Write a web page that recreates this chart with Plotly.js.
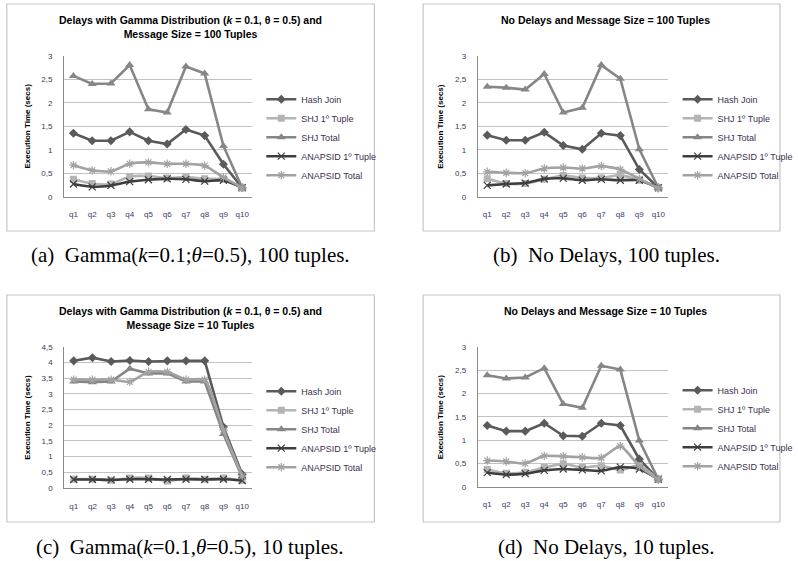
<!DOCTYPE html>
<html><head><meta charset="utf-8">
<script src="https://cdn.plot.ly/plotly-3.0.1.min.js"></script>
<style>body{margin:0;background:#fff}#chart{width:798px;height:561px}</style>
</head><body><div id="chart"></div>
<script>
const categories = ['q1','q2','q3','q4','q5','q6','q7','q8','q9','q10'];
const seriesNames = ['Hash Join','SHJ 1º Tuple','SHJ Total','ANAPSID 1º Tuple','ANAPSID Total'];
const yTicks3 = [0,0.5,1,1.5,2,2.5,3];
const yTickText3 = ['0','0,5','1','1,5','2','2,5','3'];
const yTicks45 = [0,0.5,1,1.5,2,2.5,3,3.5,4,4.5];
const yTickText45 = ['0','0,5','1','1,5','2','2,5','3','3,5','4','4,5'];

// (a) Gamma, 100 tuples
const hashA   = [1.35,1.19,1.19,1.38,1.19,1.12,1.43,1.30,0.69,0.19];
const shj1A   = [0.37,0.28,0.27,0.43,0.44,0.40,0.42,0.38,0.37,0.19];
const shjTotA = [2.57,2.40,2.41,2.80,1.86,1.79,2.77,2.62,1.08,0.19];
const ana1A   = [0.27,0.21,0.24,0.32,0.36,0.38,0.37,0.33,0.35,0.19];
const anaTotA = [0.67,0.56,0.54,0.70,0.73,0.70,0.70,0.66,0.41,0.19];
// (b) No delays, 100 tuples
const hashB   = [1.31,1.20,1.20,1.37,1.09,1.01,1.35,1.30,0.58,0.19];
const shj1B   = [0.38,0.28,0.28,0.37,0.45,0.40,0.40,0.46,0.35,0.19];
const shjTotB = [2.34,2.32,2.28,2.61,1.79,1.89,2.80,2.51,1.01,0.19];
const ana1B   = [0.24,0.27,0.29,0.38,0.39,0.35,0.37,0.35,0.35,0.19];
const anaTotB = [0.53,0.51,0.50,0.60,0.62,0.60,0.65,0.58,0.38,0.18];
// (c) Gamma, 10 tuples
const hashC   = [4.05,4.15,4.03,4.06,4.03,4.05,4.05,4.05,1.94,0.44];
const shj1C   = [0.28,0.28,0.25,0.32,0.32,0.22,0.32,0.28,0.32,0.24];
const shjTotC = [3.39,3.37,3.39,3.80,3.65,3.65,3.39,3.39,1.72,0.34];
const ana1C   = [0.27,0.27,0.26,0.28,0.28,0.27,0.28,0.27,0.28,0.24];
const anaTotC = [3.45,3.45,3.45,3.38,3.70,3.70,3.45,3.45,1.85,0.38];
// (d) No delays, 10 tuples
const hashD   = [1.31,1.19,1.19,1.36,1.09,1.08,1.36,1.31,0.59,0.16];
const shj1D   = [0.37,0.29,0.31,0.41,0.49,0.41,0.45,0.36,0.45,0.16];
const shjTotD = [2.39,2.32,2.34,2.54,1.77,1.69,2.59,2.51,0.99,0.16];
const ana1D   = [0.30,0.26,0.28,0.35,0.38,0.36,0.34,0.42,0.38,0.16];
const anaTotD = [0.56,0.54,0.50,0.66,0.65,0.63,0.62,0.87,0.44,0.16];

const panelTitles = [
  '<b>Delays with Gamma Distribution (<i>k</i> = 0.1, θ = 0.5) and</b><br><b>Message Size = 100 Tuples</b>',
  '<b>No Delays and Message Size = 100 Tuples</b>',
  '<b>Delays with Gamma Distribution (<i>k</i> = 0.1, θ = 0.5) and</b><br><b>Message Size = 10 Tuples</b>',
  '<b>No Delays and Message Size = 10 Tuples</b>'
];
const captions = [
  '(a)  Gamma(<i>k</i>=0.1;<i>θ</i>=0.5), 100 tuples.',
  '(b)  No Delays, 100 tuples.',
  '(c)  Gamma(<i>k</i>=0.1,<i>θ</i>=0.5), 10 tuples.',
  '(d)  No Delays, 10 tuples.'
];
const yTitle = '<b>Execution Time (secs)</b>';

const panels = [
  [hashA,shj1A,shjTotA,ana1A,anaTotA],
  [hashB,shj1B,shjTotB,ana1B,anaTotB],
  [hashC,shj1C,shjTotC,ana1C,anaTotC],
  [hashD,shj1D,shjTotD,ana1D,anaTotD]
];

const W = 798, H = 561;
const px = v => v / W, py = v => 1 - v / H;
// plot areas in px: [x0, x1, yTop, yBottom]
const areas = [[65.7,258,55.7,196.7],[490,685,55.7,196.7],[66,258,346.7,488],[490,685,346.7,486.7]];
const boxes = [[7,384,4,231],[434,800,4,231],[7,384,295,522],[434,800,295,522]];
const styles = [
  {color:'#5a5a5a', symbol:'diamond', size:7, shape:'linear'},
  {color:'#b4b4b4', symbol:'square', size:7, shape:'spline'},
  {color:'#868686', symbol:'triangle-up', size:8, shape:'linear'},
  {color:'#3e3e3e', symbol:'x-thin-open', size:7, shape:'spline'},
  {color:'#a2a2a2', symbol:'asterisk-open', size:7, shape:'spline'}
];
const tickColor = '#3a3a5c';
const font = 'Liberation Sans, Arial, sans-serif';

const data = [];
const layout = {
  width: W, height: H, margin:{l:0,r:0,t:0,b:0},
  paper_bgcolor:'#fff', plot_bgcolor:'rgba(0,0,0,0)',
  font:{family:font, size:8, color:tickColor},
  shapes:[], annotations:[]
};

panels.forEach((series, p) => {
  const n = p + 1;
  const xa = 'xaxis' + (n===1?'':n), ya = 'yaxis' + (n===1?'':n);
  const xr = 'x' + (n===1?'':n), yr = 'y' + (n===1?'':n);
  const lg = n===1 ? 'legend' : 'legend' + n;
  const [x0,x1,yt,yb] = areas[p];
  const big = p === 2;
  series.forEach((vals, s) => {
    const st = styles[s];
    data.push({
      type:'scatter', mode:'lines+markers', x:categories, y:vals,
      name:seriesNames[s], xaxis:xr, yaxis:yr, legend:lg, legendgroup:'g'+s,
      line:{color:st.color, width:2.6, shape:st.shape, smoothing:0.6},
      marker:{symbol:st.symbol, size:st.size, color:st.color,
              line:{color:st.color, width: st.symbol.includes('open') ? 1.2 : 0}}
    });
  });
  layout[xa] = {domain:[px(x0),px(x1)], anchor:yr, type:'category', range:[-0.5,9.5],
    showgrid:false, showline:true, linecolor:'#8c8c8c', linewidth:1, ticks:'',
    tickfont:{size:8,color:tickColor}, ticklabelstandoff:10, fixedrange:true, zeroline:false};
  layout[ya] = {domain:[py(yb),py(yt)], anchor:xr, range: big ? [0,4.5] : [0,3],
    tickvals: big ? yTicks45 : yTicks3, ticktext: big ? yTickText45 : yTickText3,
    showgrid:true, gridcolor:'#c2c2c2', gridwidth:1, showline:true, linecolor:'#8c8c8c', linewidth:1,
    zeroline:false, ticks:'', tickfont:{size:8,color:tickColor}, ticklabelstandoff:9, fixedrange:true};
  layout[lg] = {x:px(x1+10), y:py(yt + (big?30:29)), xanchor:'left', yanchor:'top',
    bgcolor:'rgba(0,0,0,0)', font:{size:9, color:'#3c3050', family:font},
    traceorder:'grouped', tracegroupgap:0, itemwidth:30};
  const [bx0,bx1,by0,by1] = boxes[p];
  layout.shapes.push({type:'rect', xref:'paper', yref:'paper', x0:px(bx0), x1:px(bx1), y0:py(by1), y1:py(by0),
    line:{color:'#c6c6c6', width:1.2}, fillcolor:'rgba(0,0,0,0)', layer:'below'});
  const cx = (p % 2 === 0) ? 195 : 621;
  const twoLine = panelTitles[p].includes('<br>');
  layout.annotations.push({xref:'paper', yref:'paper', x:px(cx), y:py(boxes[p][2] + (twoLine?23:16)),
    xanchor:'center', yanchor:'middle', showarrow:false, text:panelTitles[p],
    font:{size:10.5, color:'#000', family:font}});
  layout.annotations.push({xref:'paper', yref:'paper', x:px(p%2===0?28:452), y:py((yt+yb)/2),
    xanchor:'center', yanchor:'middle', showarrow:false, textangle:-90, text:yTitle,
    font:{size:8, color:'#000', family:font}});
  layout.annotations.push({xref:'paper', yref:'paper', x:px(p%2===0?195:622), y:py(p<2?255:547),
    xanchor:'center', yanchor:'middle', showarrow:false, text:captions[p],
    font:{size:21, color:'#000', family:'Liberation Serif, Times New Roman, serif'}});
});

Plotly.newPlot('chart', data, layout, {staticPlot:true, displayModeBar:false});
</script></body></html>
